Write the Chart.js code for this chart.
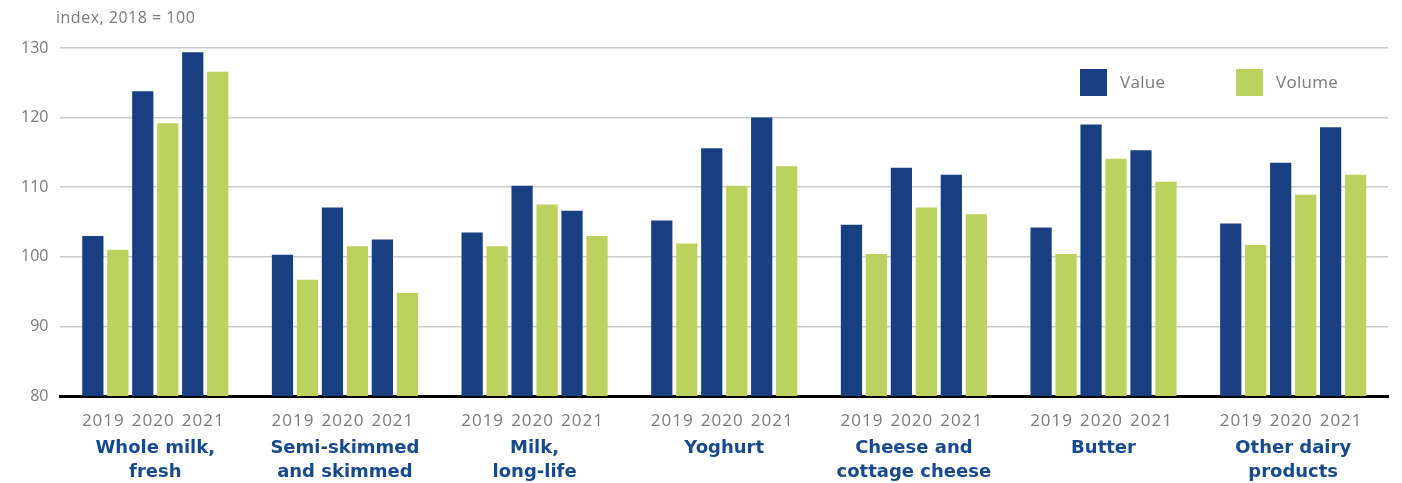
<!DOCTYPE html>
<html>
<head>
<meta charset="utf-8">
<script src="https://cdn.jsdelivr.net/npm/chart.js@4/dist/chart.umd.min.js"></script>
<style>
  html, body { margin: 0; padding: 0; background: #fff; }
  #wrap { width: 1402px; height: 483px; }
</style>
</head>
<body>
<div id="wrap"><canvas id="myChart"></canvas></div>
<script>
// Product groups along the x-axis
var products = [
  ['Whole milk,', 'fresh'],
  ['Semi-skimmed', 'and skimmed'],
  ['Milk,', 'long-life'],
  ['Yoghurt'],
  ['Cheese and', 'cottage cheese'],
  ['Butter'],
  ['Other dairy', 'products']
];

var years = ['2019', '2020', '2021'];

// index, 2018 = 100 - one array per year, one value per product
var value2019 = [103.0, 100.3, 103.5, 105.2, 104.6, 104.2, 104.8];
var value2020 = [123.8, 107.1, 110.2, 115.6, 112.8, 119.0, 113.5];
var value2021 = [129.4, 102.5, 106.6, 120.0, 111.8, 115.3, 118.6];

var volume2019 = [101.0, 96.7, 101.5, 101.9, 100.4, 100.4, 101.7];
var volume2020 = [119.2, 101.5, 107.5, 110.2, 107.1, 114.1, 108.9];
var volume2021 = [126.6, 94.8, 103.0, 113.0, 106.1, 110.8, 111.8];

var yTicks = [80, 90, 100, 110, 120, 130];

var navy = '#173f82';
var green = '#bcd15e';
var grey = '#7a7a7a';
var labelFont = "'Open Sans', 'Noto Sans', sans-serif";
var boldFont = "'DejaVu Sans', 'Open Sans', sans-serif";

var valueSeries = [value2019, value2020, value2021];
var volumeSeries = [volume2019, volume2020, volume2021];

var datasets = [];
years.forEach(function (yr, i) {
  datasets.push({ label: 'Value', year: yr, data: valueSeries[i], backgroundColor: navy });
  datasets.push({ label: 'Volume', year: yr, data: volumeSeries[i], backgroundColor: green });
});

// year labels under each pair, the unit note and the legend
var extras = {
  id: 'extras',
  afterDraw: function (chart) {
    var ctx = chart.ctx;
    var area = chart.chartArea;
    ctx.save();

    ctx.fillStyle = grey;
    ctx.font = "16px " + labelFont;
    ctx.letterSpacing = '0.5px';
    ctx.textAlign = 'left';
    ctx.textBaseline = 'middle';
    ctx.fillText('index, 2018 = 100', 56, 18);

    ctx.textAlign = 'center';
    ctx.font = "17px " + labelFont;
    ctx.letterSpacing = '1px';
    for (var y = 0; y < years.length; y++) {
      var a = chart.getDatasetMeta(y * 2).data;
      var b = chart.getDatasetMeta(y * 2 + 1).data;
      for (var p = 0; p < products.length; p++) {
        var cx = (a[p].x + b[p].x) / 2;
        ctx.fillText(years[y], cx - 2, area.bottom + 25);
      }
    }

    // legend
    var items = [{ text: 'Value', color: navy, x: 1080 }, { text: 'Volume', color: green, x: 1236 }];
    ctx.font = "17px " + labelFont;
    ctx.letterSpacing = '0.3px';
    ctx.textAlign = 'left';
    items.forEach(function (it) {
      ctx.fillStyle = it.color;
      ctx.fillRect(it.x, 69, 27, 27);
      ctx.fillStyle = grey;
      ctx.fillText(it.text, it.x + 40, 83);
    });
    ctx.restore();
  }
};

var ctx = document.getElementById('myChart');
var myChart = new Chart(ctx, {
  type: 'bar',
  data: {
    labels: products,
    datasets: datasets
  },
  options: {
    responsive: true,
    maintainAspectRatio: false,
    animation: false,
    layout: {
      padding: { top: 48, left: 9, right: 14, bottom: 0 }
    },
    datasets: {
      bar: {
        categoryPercentage: 0.79,
        barPercentage: 0.85
      }
    },
    plugins: {
      legend: { display: false },
      tooltip: { enabled: false }
    },
    scales: {
      x: {
        afterFit: function (axis) { axis.height = 87; },
        grid: { display: false, drawTicks: false },
        border: { color: '#000', width: 3 },
        ticks: {
          color: '#174a8c',
          padding: 40,
          font: { family: boldFont, size: 18, weight: 'bold', lineHeight: 1.36 },
          maxRotation: 0,
          autoSkip: false
        }
      },
      y: {
        min: 80,
        max: 130,
        afterBuildTicks: function (axis) {
          axis.ticks = yTicks.map(function (v) { return { value: v }; });
        },
        grid: { color: '#cccccc', lineWidth: 1.5, drawTicks: false },
        border: { display: false },
        ticks: {
          color: grey,
          padding: 12,
          font: { family: labelFont, size: 16 }
        }
      }
    }
  },
  plugins: [extras]
});
</script>
</body>
</html>
